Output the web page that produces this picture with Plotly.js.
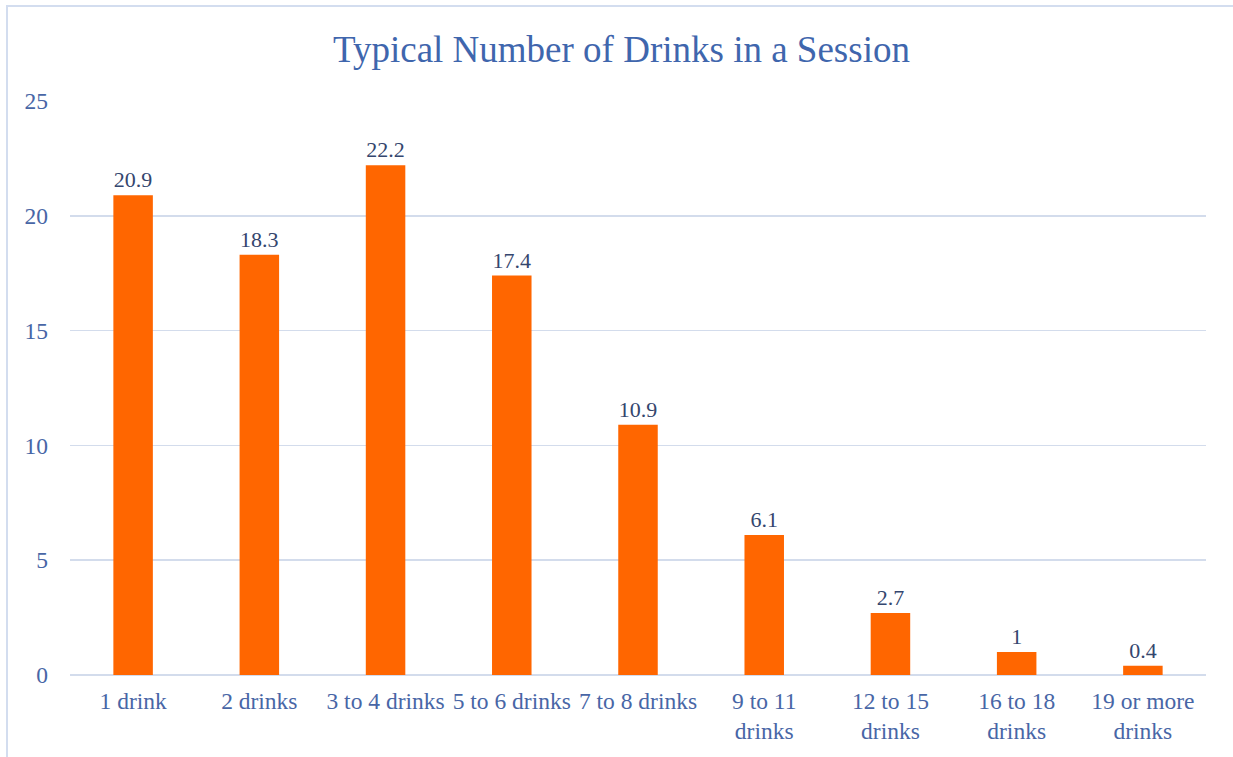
<!DOCTYPE html>
<html>
<head>
<meta charset="utf-8">
<script src="https://cdn.plot.ly/plotly-3.0.1.min.js"></script>
<style>
html,body{margin:0;padding:0;background:#fff;}
#frame{position:absolute;left:6px;top:5px;width:1227px;height:752px;border-left:2px solid #D3DDEF;border-top:2px solid #D3DDEF;box-sizing:border-box;}
#chart{position:absolute;left:0;top:0;width:1233px;height:757px;}
</style>
</head>
<body>
<div id="frame"></div>
<div id="chart"></div>
<script>
const categories = ["1 drink","2 drinks","3 to 4 drinks","5 to 6 drinks","7 to 8 drinks","9 to 11<br>drinks","12 to 15<br>drinks","16 to 18<br>drinks","19 or more<br>drinks"];
const values = [20.9, 18.3, 22.2, 17.4, 10.9, 6.1, 2.7, 1, 0.4];
const yTicks = [0, 5, 10, 15, 20, 25];

const serif = '"Liberation Serif", "Times New Roman", serif';

const trace = {
  type: 'bar',
  x: categories,
  y: values,
  text: values.map(String),
  textposition: 'outside',
  cliponaxis: false,
  textfont: {family: serif, size: 22, color: '#34466E'},
  marker: {color: '#FF6600'},
  hoverinfo: 'x+y'
};

const layout = {
  width: 1233, height: 757,
  paper_bgcolor: 'rgba(0,0,0,0)', plot_bgcolor: 'rgba(0,0,0,0)',
  margin: {l: 70, r: 27, t: 101, b: 82},
  bargap: 0.687,
  showlegend: false,
  title: {
    text: 'Typical Number of Drinks in a Session',
    x: 0.504, xref: 'container', xanchor: 'center',
    y: 0.935, yref: 'container', yanchor: 'middle',
    font: {family: serif, size: 37, color: '#3F66AD'}
  },
  font: {family: serif, size: 23.5, color: '#4866A6'},
  xaxis: {
    type: 'category',
    tickfont: {family: serif, size: 23.5, color: '#4866A6'},
    showgrid: false, showline: false, zeroline: false,
    ticks: '', ticklabelstandoff: 9, automargin: false
  },
  yaxis: {
    range: [0, 25], tickvals: yTicks, ticktext: yTicks.map(String),
    tickfont: {family: serif, size: 23.5, color: '#4866A6'},
    showgrid: true, gridcolor: '#D3DCEC', gridwidth: 1.5,
    zeroline: true, zerolinecolor: '#D3DCEC', zerolinewidth: 2,
    showline: false, ticks: '', ticklabelstandoff: 21, automargin: false
  }
};

Plotly.newPlot('chart', [trace], layout, {displayModeBar: false, staticPlot: true});
</script>
</body>
</html>
